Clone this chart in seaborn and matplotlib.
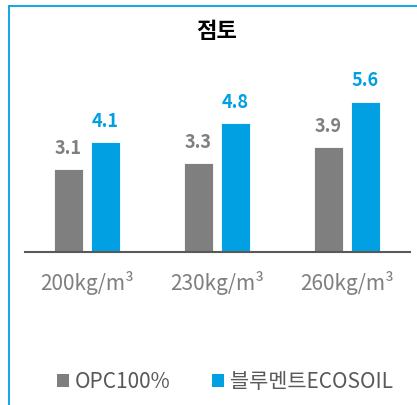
import pandas as pd
import seaborn as sns
import matplotlib.pyplot as plt
from matplotlib.lines import Line2D
from matplotlib.patches import Patch

categories = ['200kg/m³', '230kg/m³', '260kg/m³']
series_names = ['OPC100%', '블루멘트ECOSOIL']
opc_values = [3.1, 3.3, 3.9]
eco_values = [4.1, 4.8, 5.6]
title = '점토'

GRAY = '#7f7f7f'
BLUE = '#00a0e3'

df = pd.DataFrame({
    'cat': categories * 2,
    'series': [series_names[0]] * 3 + [series_names[1]] * 3,
    'value': opc_values + eco_values,
})

sns.set_style('white')
plt.rcParams['font.family'] = ['Noto Sans CJK KR', 'DejaVu Sans']

fig = plt.figure(figsize=(4.17, 4.05), dpi=100)
ax = fig.add_axes([0.06, 0.378, 0.923, 0.464])

sns.barplot(data=df, x='cat', y='value', hue='series',
            palette=[GRAY, BLUE], saturation=1, width=0.57, gap=0.217,
            edgecolor='white', linewidth=0.6, legend=False, ax=ax)

# value labels
for cont, col in zip(ax.containers, [GRAY, BLUE]):
    ax.bar_label(cont, fmt='%.1f', padding=8, color=col,
                 fontsize=13, fontweight='bold')

ax.set_ylim(0, 7)
ax.set_xlim(-0.477, 2.485)
ax.set_xlabel('')
ax.set_ylabel('')
ax.set_yticks([])
for s in ['left', 'right', 'top']:
    ax.spines[s].set_visible(False)
ax.spines['bottom'].set_color('#595959')
ax.spines['bottom'].set_linewidth(1.5)
ax.tick_params(axis='x', length=0, pad=14, labelsize=15, labelcolor=GRAY)

fig.text(0.519, 0.921, title, ha='center', va='center',
         fontsize=16, fontweight='bold', color='black')

# frame border
fig.add_artist(Line2D([0.022, 0.022], [0, 0.985], color=BLUE, lw=1.3,
                      transform=fig.transFigure))
fig.add_artist(Line2D([0.022, 1.0], [0.985, 0.985], color=BLUE, lw=1.3,
                      transform=fig.transFigure))

handles = [Patch(facecolor=GRAY, edgecolor='none'),
           Patch(facecolor=BLUE, edgecolor='none')]
fig.legend(handles, series_names, loc='center', bbox_to_anchor=(0.54, 0.057),
           ncol=2, frameon=False, fontsize=15, labelcolor='#595959',
           handlelength=0.55, handleheight=0.55, handletextpad=0.3,
           columnspacing=2.0)

fig.savefig('out.png', dpi=100)
